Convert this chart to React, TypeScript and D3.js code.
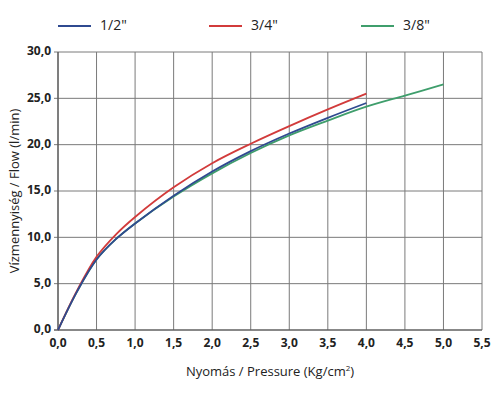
import { useEffect, useRef } from 'react'
import * as d3 from 'd3'

const pressure = [0, 0.25, 0.5, 0.75, 1.0, 1.5, 2.0, 2.5, 3.0, 3.5, 4.0]
const flowHalf = [0, 4.2, 7.6, 9.8, 11.5, 14.5, 17.1, 19.3, 21.2, 22.9, 24.5]
const flowThreeQuarter = [0, 4.3, 7.9, 10.3, 12.2, 15.4, 18.0, 20.1, 22.0, 23.8, 25.5]
const pressureGreen = [0, 0.25, 0.5, 0.75, 1.0, 1.5, 2.0, 2.5, 3.0, 3.5, 4.0, 4.5, 5.0]
const flowThreeEighth = [0, 4.2, 7.6, 9.8, 11.5, 14.4, 16.9, 19.1, 21.0, 22.6, 24.1, 25.3, 26.5]

const seriesNames = ['1/2"', '3/4"', '3/8"']
const seriesColors = ['#2f4a90', '#d23b3b', '#3f9e6c']
const xTicks = [0, 0.5, 1, 1.5, 2, 2.5, 3, 3.5, 4, 4.5, 5, 5.5]
const yTicks = [0, 5, 10, 15, 20, 25, 30]

const fmt = (v: number) => v.toFixed(1).replace('.', ',')

export default function App() {
  const ref = useRef<SVGSVGElement>(null)

  useEffect(() => {
    if (!ref.current) return
    const svg = d3.select(ref.current)
    svg.selectAll('*').remove()

    const width = 500
    const height = 410
    const left = 58, right = 482, top = 52, bottom = 330
    svg.attr('width', width).attr('height', height)

    const x = d3.scaleLinear().domain([0, 5.5]).range([left, right])
    const y = d3.scaleLinear().domain([0, 30]).range([bottom, top])

    const font = "'Open Sans', 'DejaVu Sans', sans-serif"

    // grid
    const grid = svg.append('g')
    xTicks.forEach(t => {
      grid.append('line')
        .attr('x1', x(t)).attr('x2', x(t))
        .attr('y1', top).attr('y2', bottom)
        .attr('stroke', '#7a7a7a').attr('stroke-width', 1)
    })
    yTicks.forEach(t => {
      grid.append('line')
        .attr('x1', left - 4).attr('x2', right)
        .attr('y1', y(t)).attr('y2', y(t))
        .attr('stroke', '#7a7a7a').attr('stroke-width', 1)
    })
    // axes
    svg.append('line')
      .attr('x1', left).attr('x2', left).attr('y1', top).attr('y2', bottom)
      .attr('stroke', '#555').attr('stroke-width', 1.2)
    svg.append('line')
      .attr('x1', left - 4).attr('x2', right).attr('y1', bottom).attr('y2', bottom)
      .attr('stroke', '#555').attr('stroke-width', 1.2)

    // tick labels
    yTicks.forEach(t => {
      svg.append('text')
        .attr('x', left - 7).attr('y', y(t))
        .attr('text-anchor', 'end').attr('dominant-baseline', 'middle')
        .style('font-family', font).style('font-size', '12px').style('font-weight', 'bold')
        .style('fill', '#222')
        .text(fmt(t))
    })
    xTicks.forEach(t => {
      svg.append('text')
        .attr('x', x(t)).attr('y', bottom + 17)
        .attr('text-anchor', 'middle')
        .style('font-family', font).style('font-size', '12px').style('font-weight', 'bold')
        .style('fill', '#222')
        .text(fmt(t))
    })

    // axis titles
    const xt = svg.append('text')
      .attr('x', 270).attr('y', 376)
      .attr('text-anchor', 'middle')
      .style('font-family', font).style('font-size', '13px').style('fill', '#222')
    xt.append('tspan').text('Nyomás / Pressure (Kg/cm')
    xt.append('tspan').attr('dy', -5).style('font-size', '8px').text('2')
    xt.append('tspan').attr('dy', 5).text(')')

    svg.append('text')
      .attr('transform', `translate(16,${(top + bottom) / 2}) rotate(-90)`)
      .attr('text-anchor', 'middle').attr('dominant-baseline', 'middle')
      .style('font-family', font).style('font-size', '13px').style('fill', '#222')
      .text('Vízmennyiség / Flow (l/min)')

    // lines
    const line = d3.line<[number, number]>()
      .x(d => x(d[0]))
      .y(d => y(d[1]))
      .curve(d3.curveCatmullRom.alpha(0.5))

    const series: [number, number][][] = [
      pressure.map((p, i) => [p, flowHalf[i]]),
      pressure.map((p, i) => [p, flowThreeQuarter[i]]),
      pressureGreen.map((p, i) => [p, flowThreeEighth[i]]),
    ]
    ;[2, 1, 0].forEach(i => {
      svg.append('path')
        .datum(series[i])
        .attr('d', line)
        .attr('fill', 'none')
        .attr('stroke', seriesColors[i])
        .attr('stroke-width', 1.8)
    })

    // legend
    const legendX = [58, 209, 361]
    seriesNames.forEach((name, i) => {
      svg.append('line')
        .attr('x1', legendX[i]).attr('x2', legendX[i] + 33)
        .attr('y1', 26).attr('y2', 26)
        .attr('stroke', seriesColors[i]).attr('stroke-width', 2)
      svg.append('text')
        .attr('x', legendX[i] + 42).attr('y', 26)
        .attr('dominant-baseline', 'middle')
        .style('font-family', font).style('font-size', '14px').style('fill', '#222')
        .text(name)
    })
  }, [])

  return (
    <svg ref={ref} style={{ position: 'absolute', left: 0, top: 0, background: '#fff' }}></svg>
  )
}
